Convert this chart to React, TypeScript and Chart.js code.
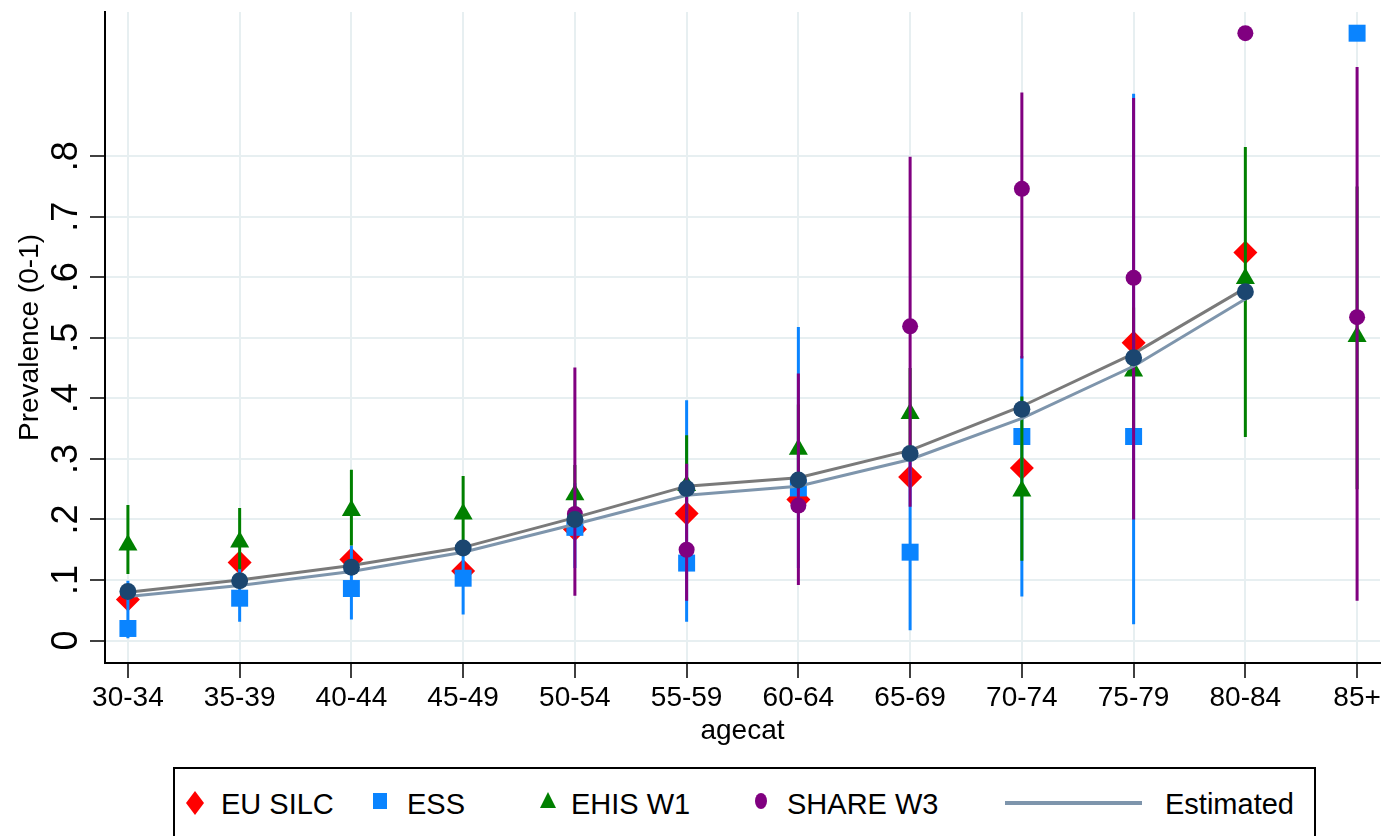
import React, { useEffect, useRef } from 'react';
import { Chart, registerables } from 'chart.js';

Chart.register(...registerables);

const categories = ['30-34', '35-39', '40-44', '45-49', '50-54', '55-59', '60-64', '65-69', '70-74', '75-79', '80-84', '85+'];
const yTickValues = [0, 0.1, 0.2, 0.3, 0.4, 0.5, 0.6, 0.7, 0.8];
const yTickLabels = ['0', '.1', '.2', '.3', '.4', '.5', '.6', '.7', '.8'];
const xTitle = 'agecat';
const yTitle = 'Prevalence (0-1)';
const legendLabels = ['EU SILC', 'ESS', 'EHIS W1', 'SHARE W3', 'Estimated'];

const euSilc = [0.068, 0.129, 0.134, 0.115, 0.184, 0.210, 0.233, 0.270, 0.285, 0.492, 0.641, null];
const ess = [0.020, 0.070, 0.086, 0.103, 0.187, 0.128, 0.252, 0.146, 0.337, 0.337, null, 1.003];
const essLow = [0.004, 0.031, 0.035, 0.043, 0.120, 0.031, 0.120, 0.017, 0.073, 0.027, null, null];
const essHigh = [0.099, 0.120, 0.157, 0.160, 0.260, 0.397, 0.518, 0.300, 0.470, 0.903, null, null];
const ehis = [0.158, 0.163, 0.215, 0.209, 0.241, 0.256, 0.316, 0.375, 0.247, 0.445, 0.598, 0.502];
const ehisLow = [0.110, 0.118, 0.157, 0.160, 0.200, 0.200, 0.250, 0.300, 0.132, 0.350, 0.336, 0.250];
const ehisHigh = [0.224, 0.219, 0.282, 0.272, 0.290, 0.339, 0.390, 0.450, 0.403, 0.550, 0.815, 0.750];
const share = [null, null, null, null, 0.209, 0.150, 0.223, 0.519, 0.746, 0.599, 1.003, 0.534];
const shareLow = [null, null, null, null, 0.074, 0.066, 0.092, 0.221, 0.466, 0.200, null, 0.066];
const shareHigh = [null, null, null, null, 0.451, 0.292, 0.441, 0.799, 0.905, 0.896, null, 0.947];
const fitted = [0.081, 0.099, 0.121, 0.153, 0.200, 0.251, 0.265, 0.309, 0.382, 0.467, 0.576, null];
const fittedLine = [0.080, 0.100, 0.124, 0.154, 0.203, 0.255, 0.269, 0.314, 0.387, 0.474, 0.582, null];
const estimated = [0.073, 0.091, 0.114, 0.146, 0.192, 0.240, 0.255, 0.299, 0.367, 0.453, 0.564, null];

const FONT = '"Liberation Sans", Arial, Helvetica, sans-serif';
const RED = '#ff0000';
const BLUE = '#0a84ff';
const GREEN = '#008000';
const PURPLE = '#800080';
const NAVY = '#1b4670';
const GRAY = '#7a7a7a';
const EST = '#7e95ac';
const GRID = '#e7eff1';

const pts = (arr: (number | null)[]) =>
  arr.map((v, i) => (v == null ? null : { x: i, y: v })).filter((p) => p !== null) as { x: number; y: number }[];

// error bars keyed by dataset index
const errorSpecs: Record<number, { lo: (number | null)[]; hi: (number | null)[]; color: string }> = {
  1: { lo: essLow, hi: essHigh, color: BLUE },
  2: { lo: ehisLow, hi: ehisHigh, color: GREEN },
  3: { lo: shareLow, hi: shareHigh, color: PURPLE },
};

const customPlugin = {
  id: 'customStata',
  beforeDatasetDraw(chart: any, args: any) {
    const spec = errorSpecs[args.index];
    if (!spec) return;
    const { ctx } = chart;
    const xs = chart.scales.x;
    const ys = chart.scales.y;
    ctx.save();
    ctx.strokeStyle = spec.color;
    ctx.lineWidth = 3;
    ctx.lineCap = 'butt';
    ctx.beginPath();
    spec.lo.forEach((lo, i) => {
      const hi = spec.hi[i];
      if (lo == null || hi == null) return;
      const px = xs.getPixelForValue(i);
      ctx.moveTo(px, ys.getPixelForValue(lo));
      ctx.lineTo(px, ys.getPixelForValue(hi));
    });
    ctx.stroke();
    ctx.restore();
  },
  afterDraw(chart: any) {
    const { ctx, chartArea } = chart;
    const ys = chart.scales.y;
    ctx.save();
    ctx.fillStyle = '#000';
    ctx.textAlign = 'center';
    ctx.textBaseline = 'alphabetic';
    ctx.font = `36px ${FONT}`;
    yTickValues.forEach((v, i) => {
      const py = ys.getPixelForValue(v);
      ctx.save();
      ctx.translate(77, py);
      ctx.rotate(-Math.PI / 2);
      ctx.fillText(yTickLabels[i], 0, 0);
      ctx.restore();
    });
    ctx.font = `28px ${FONT}`;
    ctx.save();
    ctx.translate(38, (chartArea.top + chartArea.bottom) / 2);
    ctx.rotate(-Math.PI / 2);
    ctx.fillText(yTitle, 0, 0);
    ctx.restore();
    ctx.fillText(xTitle, (chartArea.left + chartArea.right) / 2, 739);
    ctx.restore();
  },
};

function Legend() {
  const text: React.CSSProperties = {
    position: 'absolute',
    top: 20.5,
    font: `29px ${FONT}`,
    lineHeight: 1,
    color: '#000',
    whiteSpace: 'nowrap',
  };
  return (
    <div
      style={{
        position: 'absolute',
        left: 173,
        top: 767,
        width: 1143,
        height: 100,
        border: '2px solid #000',
        boxSizing: 'border-box',
        background: '#fff',
      }}
    >
      <svg style={{ position: 'absolute', left: 11, top: 22 }} width={18} height={24}>
        <polygon points="9,0 18,12 9,24 0,12" fill={RED} />
      </svg>
      <div style={{ ...text, left: 46 }}>{legendLabels[0]}</div>
      <svg style={{ position: 'absolute', left: 198, top: 24 }} width={14} height={16}>
        <rect x={0} y={0} width={14} height={16} fill={BLUE} />
      </svg>
      <div style={{ ...text, left: 232 }}>{legendLabels[1]}</div>
      <svg style={{ position: 'absolute', left: 365, top: 23 }} width={16} height={16}>
        <polygon points="8,0 16,16 0,16" fill={GREEN} />
      </svg>
      <div style={{ ...text, left: 396 }}>{legendLabels[2]}</div>
      <svg style={{ position: 'absolute', left: 580, top: 24 }} width={12} height={16}>
        <ellipse cx={6} cy={8} rx={6} ry={8} fill={PURPLE} />
      </svg>
      <div style={{ ...text, left: 612 }}>{legendLabels[3]}</div>
      <div style={{ position: 'absolute', left: 830, top: 32, width: 137, height: 4, background: EST }} />
      <div style={{ ...text, left: 990 }}>{legendLabels[4]}</div>
    </div>
  );
}

export default function App() {
  const canvasRef = useRef<HTMLCanvasElement | null>(null);

  useEffect(() => {
    if (!canvasRef.current) return;
    const scatterBase = { showLine: false, pointBorderWidth: 0, clip: false as any };
    const chart = new Chart(canvasRef.current, {
      type: 'scatter',
      data: {
        datasets: [
          {
            ...scatterBase,
            label: legendLabels[0],
            data: pts(euSilc),
            pointStyle: 'rectRot',
            pointRadius: 12,
            pointBackgroundColor: RED,
            pointBorderColor: RED,
            order: 7,
          },
          {
            ...scatterBase,
            label: legendLabels[1],
            data: pts(ess),
            pointStyle: 'rect',
            pointRadius: 12,
            pointBackgroundColor: BLUE,
            pointBorderColor: BLUE,
            order: 6,
          },
          {
            ...scatterBase,
            label: legendLabels[2],
            data: pts(ehis),
            pointStyle: 'triangle',
            pointRadius: 11,
            pointBackgroundColor: GREEN,
            pointBorderColor: GREEN,
            order: 5,
          },
          {
            ...scatterBase,
            label: legendLabels[3],
            data: pts(share),
            pointStyle: 'circle',
            pointRadius: 8,
            pointBackgroundColor: PURPLE,
            pointBorderColor: PURPLE,
            order: 4,
          },
          {
            label: 'Fitted',
            data: pts(fittedLine),
            showLine: true,
            pointRadius: 0,
            borderColor: GRAY,
            borderWidth: 3,
            tension: 0,
            clip: false as any,
            order: 3,
          },
          {
            label: legendLabels[4],
            data: pts(estimated),
            showLine: true,
            pointRadius: 0,
            borderColor: EST,
            borderWidth: 3,
            tension: 0,
            clip: false as any,
            order: 2,
          },
          {
            ...scatterBase,
            label: 'Predicted',
            data: pts(fitted),
            pointStyle: 'circle',
            pointRadius: 8.5,
            pointBackgroundColor: NAVY,
            pointBorderColor: NAVY,
            order: 1,
          },
        ],
      },
      options: {
        responsive: false,
        animation: false,
        devicePixelRatio: 1,
        events: [],
        layout: { padding: { left: 0, right: 7, top: 8, bottom: 73 } },
        plugins: {
          legend: { display: false },
          tooltip: { enabled: false },
        },
        scales: {
          x: {
            type: 'linear',
            min: -0.205,
            max: 11.205,
            afterBuildTicks: (s: any) => {
              s.ticks = categories.map((_, i) => ({ value: i }));
            },
            afterFit: (s: any) => {
              s.height = 100;
            },
            ticks: {
              callback: (v: any) => categories[v as number] ?? '',
              font: { family: FONT, size: 28 },
              color: '#000',
              padding: 3,
              autoSkip: false,
              maxRotation: 0,
              minRotation: 0,
            },
            grid: { color: GRID, lineWidth: 2, drawTicks: true, tickLength: 15, tickColor: '#000', tickWidth: 1.5 },
            border: { display: true, color: '#000', width: 2 },
          },
          y: {
            type: 'linear',
            min: -0.037,
            max: 1.038,
            afterBuildTicks: (s: any) => {
              s.ticks = yTickValues.map((v) => ({ value: v }));
            },
            afterFit: (s: any) => {
              s.width = 105;
            },
            ticks: { display: false },
            grid: { color: GRID, lineWidth: 2, drawTicks: true, tickLength: 15, tickColor: '#000', tickWidth: 1.5 },
            border: { display: true, color: '#000', width: 2 },
          },
        },
      },
      plugins: [customPlugin],
    });
    return () => chart.destroy();
  }, []);

  return (
    <div
      style={{
        position: 'fixed',
        left: 0,
        top: 0,
        width: 1392,
        height: 836,
        overflow: 'hidden',
        background: '#fff',
      }}
    >
      <canvas ref={canvasRef} width={1392} height={836} style={{ display: 'block', position: 'absolute', left: 0, top: 0 }} />
      <Legend />
    </div>
  );
}
